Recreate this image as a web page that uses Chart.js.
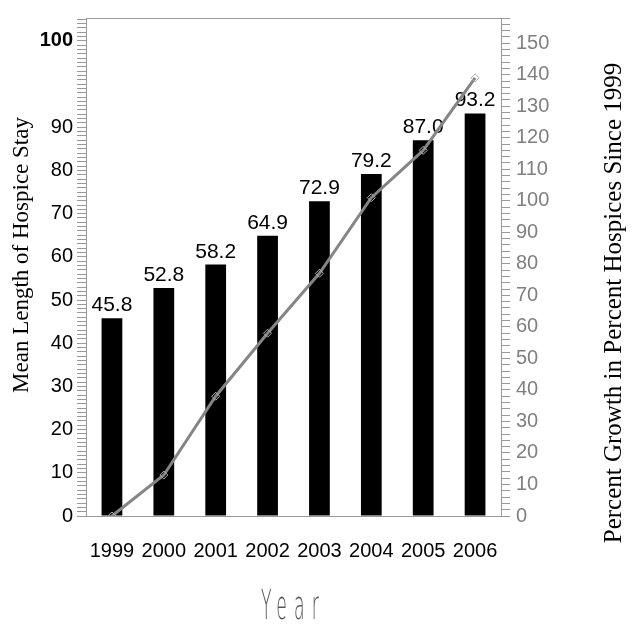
<!DOCTYPE html>
<html>
<head>
<meta charset="utf-8">
<script src="https://cdn.jsdelivr.net/npm/chart.js@4.4.1/dist/chart.umd.min.js"></script>
<style>
  body { margin: 0; background: #fff; }
  canvas { display: block; }
</style>
</head>
<body>
<canvas id="chart" width="635" height="630"></canvas>
<script>
// values
const years = ['1999', '2000', '2001', '2002', '2003', '2004', '2005', '2006'];
const meanStay = [45.8, 52.8, 58.2, 64.9, 72.9, 79.2, 87.0, 93.2];
const hospiceGrowth = [0, 13, 38, 58, 77, 101, 116, 139];
const leftTicks = [0, 10, 20, 30, 40, 50, 60, 70, 80, 90, 110];
const rightTicks = [0, 10, 20, 30, 40, 50, 60, 70, 80, 90, 100, 110, 120, 130, 140, 150];

const LEFT_MAX = 115.3;
const RIGHT_MAX = 158;
const GREY = '#999999';

// value labels above the bars, drawn before the line so it crosses them
const barLabels = {
    id: 'barLabels',
    afterDatasetDraw(chart, args) {
        if (args.index !== 1) return;
        const ctx = chart.ctx;
        ctx.save();
        ctx.fillStyle = '#000';
        ctx.font = '21px "Liberation Sans", Arial, sans-serif';
        ctx.textAlign = 'center';
        ctx.textBaseline = 'alphabetic';
        args.meta.data.forEach((bar, i) => {
            ctx.fillText(meanStay[i].toFixed(1), bar.x, bar.y - 7);
        });
        ctx.restore();
    }
};

// top edge of the plot frame
const frame = {
    id: 'frame',
    afterDraw(chart) {
        const { ctx, chartArea: a } = chart;
        ctx.save();
        ctx.strokeStyle = GREY;
        ctx.lineWidth = 1;
        ctx.beginPath();
        ctx.moveTo(a.left, a.top + 0.5);
        ctx.lineTo(a.right, a.top + 0.5);
        ctx.stroke();
        ctx.restore();
    }
};

// x title: thin, narrow, spaced. left title sits a bit high,
// right title reads bottom to top and sits a bit low
const titleTweaks = {
    id: 'titleTweaks',
    beforeDraw(chart) {
        const x = chart.scales.x;
        if (!x._tweaked) {
            const orig = x.drawTitle;
            x.drawTitle = function () {
                const ctx = this.ctx;
                const cx = (this.left + this.right) / 2;
                ctx.save();
                ctx.letterSpacing = '17px';
                ctx.translate(cx, 8);
                ctx.scale(0.42, 1);
                ctx.translate(-cx, 0);
                orig.call(this);
                ctx.restore();
            };
            x._tweaked = true;
        }
        const l = chart.scales.y;
        if (!l._tweaked) {
            const orig = l.drawTitle;
            l.drawTitle = function () {
                this.ctx.save();
                this.ctx.translate(0, -12);
                orig.call(this);
                this.ctx.restore();
            };
            l._tweaked = true;
        }
        const r = chart.scales.y2;
        if (!r._tweaked) {
            const orig = r.drawTitle;
            r.drawTitle = function () {
                const ctx = this.ctx;
                const lh = Chart.helpers.toFont(this.options.title.font).lineHeight;
                const cx = this.right - lh / 2;
                const cy = (this.top + this.bottom) / 2;
                ctx.save();
                ctx.translate(cx + 2, cy + 36);
                ctx.rotate(Math.PI);
                ctx.translate(-cx, -cy);
                orig.call(this);
                ctx.restore();
            };
            r._tweaked = true;
        }
    }
};

const tickFont = { family: '"Liberation Sans", Arial, sans-serif', size: 20 };

function integerTicks(max, step) {
    return (scale) => {
        const t = [];
        for (let v = 0; v <= max; v += step) t.push({ value: v });
        scale.ticks = t;
    };
}

new Chart(document.getElementById('chart'), {
    type: 'bar',
    data: {
        labels: years,
        datasets: [
            {
                type: 'line',
                data: hospiceGrowth,
                yAxisID: 'y2',
                order: 0,
                borderColor: '#858585',
                borderWidth: 3,
                tension: 0,
                pointStyle: 'rectRot',
                pointRadius: 4,
                pointBorderWidth: 1,
                pointBorderColor: '#b0b0b0',
                pointBackgroundColor: 'rgba(255,255,255,0)'
            },
            {
                type: 'bar',
                data: meanStay,
                yAxisID: 'y',
                order: 1,
                backgroundColor: '#000',
                barPercentage: 0.8,
                categoryPercentage: 0.5
            }
        ]
    },
    options: {
        responsive: false,
        animation: false,
        layout: { padding: { left: 8, right: 8, top: 12, bottom: 5 } },
        plugins: { legend: { display: false }, tooltip: { enabled: false } },
        scales: {
            x: {
                grid: { display: false, drawTicks: false },
                border: { display: true, color: GREY },
                ticks: { color: '#000', font: { family: tickFont.family, size: 20 }, padding: 23 },
                title: {
                    display: true,
                    text: 'Year',
                    color: '#555',
                    font: { family: '"DejaVu Sans", sans-serif', size: 41, weight: 200 },
                    padding: 0
                },
                afterFit(s) { s.height = 109; }
            },
            y: {
                position: 'left',
                min: 0,
                max: LEFT_MAX,
                afterBuildTicks: integerTicks(115, 1),
                grid: { drawOnChartArea: false, tickLength: 9, color: GREY },
                border: { color: GREY },
                ticks: {
                    autoSkip: false,
                    color: '#000',
                    padding: 4,
                    font: (c) => (c.tick && c.tick.value === 110)
                        ? { family: tickFont.family, size: 20, weight: 'bold' }
                        : tickFont,
                    // the top label reads "100" in the source
                    callback: (v) => leftTicks.includes(v) ? (v === 110 ? '100' : String(v)) : ''
                },
                title: {
                    display: true,
                    text: 'Mean Length of Hospice Stay',
                    color: '#000',
                    font: { family: '"Liberation Serif", "Times New Roman", serif', size: 23 },
                    padding: 0
                },
                afterFit(s) { s.width = 78; }
            },
            y2: {
                position: 'right',
                min: 0,
                max: RIGHT_MAX,
                afterBuildTicks: integerTicks(158, 2),
                grid: { drawOnChartArea: false, tickLength: 9, color: GREY },
                border: { color: GREY },
                ticks: {
                    autoSkip: false,
                    color: '#808080',
                    padding: 6,
                    font: tickFont,
                    callback: (v) => rightTicks.includes(v) ? String(v) : ''
                },
                title: {
                    display: true,
                    text: 'Percent Growth in Percent Hospices Since 1999',
                    color: '#000',
                    font: { family: '"Liberation Serif", "Times New Roman", serif', size: 25 },
                    padding: 0
                },
                afterFit(s) { s.width = 126; }
            }
        }
    },
    plugins: [barLabels, frame, titleTweaks]
});
</script>
</body>
</html>
